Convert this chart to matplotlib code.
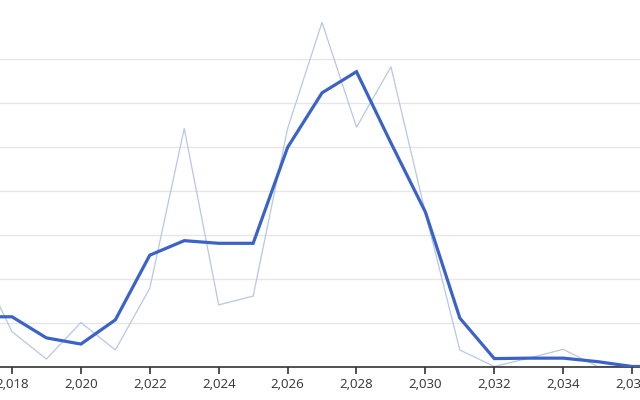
import numpy as np
import matplotlib.pyplot as plt
from matplotlib.ticker import FuncFormatter

# data (one grid step = 1 unit)
years = list(range(2017, 2038))
smooth = [1.13, 1.13, 0.65, 0.51, 1.06, 2.53, 2.86, 2.80, 2.80, 4.98, 6.22,
          6.70, 5.08, 3.51, 1.10, 0.18, 0.19, 0.19, 0.11, 0.0, 0.0]
raw = [2.42, 0.79, 0.17, 1.00, 0.375, 1.78, 5.41, 1.40, 1.60, 5.41, 7.82,
       5.44, 6.81, 3.49, 0.375, 0.0, 0.19, 0.39, 0.0, 0.0, 0.0]
xticks = list(range(2018, 2038, 2))

plt.rcParams['font.family'] = ['Open Sans', 'DejaVu Sans']

fig = plt.figure(figsize=(6.4, 4), dpi=100)
ax = fig.add_axes([0, 33.5/400, 1, 366.5/400])

ax.plot(years, raw, color='#b7c7e4', linewidth=0.9, zorder=2)
ax.plot(years, smooth, color='#3b62c8', linewidth=2.3, zorder=3,
        solid_joinstyle='miter')

ax.set_xlim(2018 - 12/34.45, 2018 + 628/34.45)
ax.set_ylim(0, 366.5/44)

ax.set_yticks(range(1, 8))
ax.yaxis.grid(True, color='#e6e6e6', linewidth=1)
ax.tick_params(axis='y', left=False, labelleft=False)
ax.set_axisbelow(True)

ax.set_xticks(xticks)
ax.xaxis.set_major_formatter(FuncFormatter(lambda v, p: f'{int(v):,}'))
ax.tick_params(axis='x', direction='out', length=5, width=1.2,
               color='#333333', labelcolor='#333333', labelsize=9.5, pad=3)

for s in ['top', 'left', 'right']:
    ax.spines[s].set_visible(False)
ax.spines['bottom'].set_color('#333333')
ax.spines['bottom'].set_linewidth(1.2)

fig.savefig('out.png', dpi=100)
